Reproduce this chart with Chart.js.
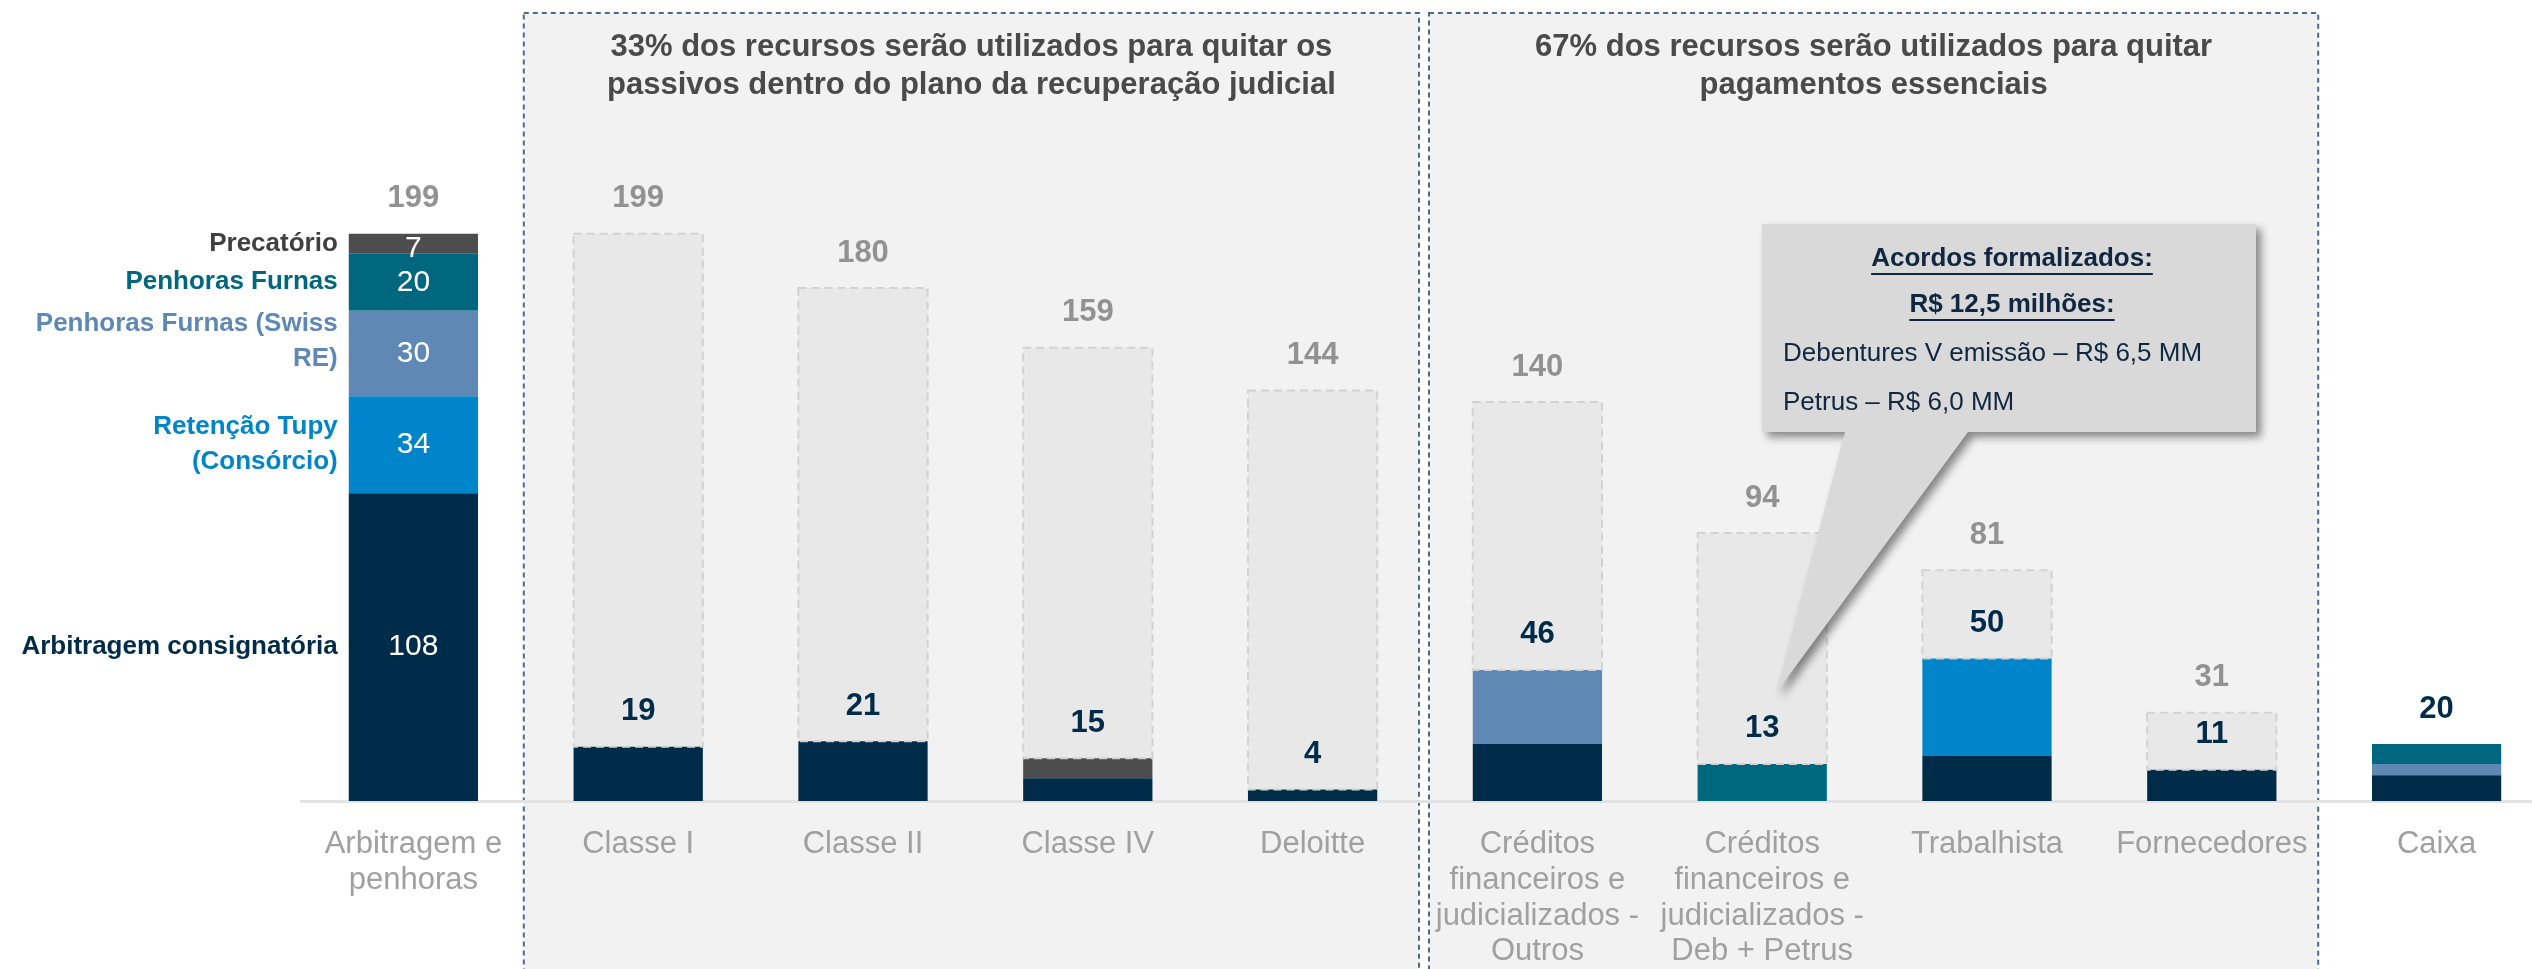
<!DOCTYPE html>
<html>
<head>
<meta charset="utf-8">
<script src="https://cdn.jsdelivr.net/npm/chart.js@4.4.0/dist/chart.umd.min.js"></script>
<style>
  html, body { margin: 0; padding: 0; background: #fff; overflow: hidden; }
  #wrap { width: 2560px; height: 969px; }
</style>
</head>
<body>
<div id="wrap"><canvas id="grafico" width="2560" height="969"></canvas></div>
<script>
// Categorias do eixo X
const categorias = [
  ['Arbitragem e', 'penhoras'],
  'Classe I', 'Classe II', 'Classe IV', 'Deloitte',
  ['Créditos', 'financeiros e', 'judicializados -', 'Outros'],
  ['Créditos', 'financeiros e', 'judicializados -', 'Deb + Petrus'],
  'Trabalhista', 'Fornecedores', 'Caixa'
];

// Fontes de recursos (R$ MM) empilhadas por categoria
const arbitragemConsignatoria = [108, 19, 21, 8, 4, 20, null, 16, 11, 9];
const retencaoTupy = [34, null, null, null, null, null, null, 34, null, null];
const penhorasSwissRe = [30, null, null, null, null, 26, null, null, null, 4];
const penhorasFurnas = [20, null, null, null, null, null, 13, null, null, 7];
const precatorio = [7, null, null, 7, null, null, null, null, null, null];

// Saldo antes de cada pagamento, valor pago e o que resta (barra tracejada)
const saldoTotal = [199, 199, 180, 159, 144, 140, 94, 81, 31, 20];
const valorPago = [null, 19, 21, 15, 4, 46, 13, 50, 11, 20];
const restante = [null, 180, 159, 144, 140, 94, 81, 31, 20, null];

// Rótulos da barra de fontes (à esquerda)
const nomesFontes = [
  ['Arbitragem consignatória'],
  ['Retenção Tupy', '(Consórcio)'],
  ['Penhoras Furnas (Swiss', 'RE)'],
  ['Penhoras Furnas'],
  ['Precatório']
];

const titulo1 = ['33% dos recursos serão utilizados para quitar os', 'passivos dentro do plano da recuperação judicial'];
const titulo2 = ['67% dos recursos serão utilizados para quitar', 'pagamentos essenciais'];
const textoBalao = ['Acordos formalizados:', 'R$ 12,5 milhões:', 'Debentures V emissão – R$ 6,5 MM', 'Petrus – R$ 6,0 MM'];

const cores = ['#002B49', '#0085CA', '#5F89B4', '#00677F', '#4D4D4D'];
const FONTE = '"Liberation Sans", Arial, sans-serif';

// Plugin para os painéis, rótulos e balão
const desenhos = {
  id: 'desenhos',
  beforeDraw(chart) {
    const ctx = chart.ctx;
    const x = chart.scales.x;
    const passo = x.getPixelForTick(1) - x.getPixelForTick(0);
    const paineis = [
      [x.getPixelForTick(1) - passo / 2 - 2, x.getPixelForTick(4) + passo / 2 - 6, titulo1],
      [x.getPixelForTick(5) - passo / 2 + 4, x.getPixelForTick(8) + passo / 2 - 6, titulo2]
    ];
    ctx.save();
    paineis.forEach(([esq, dir, tit]) => {
      ctx.fillStyle = '#F2F2F2';
      ctx.fillRect(esq, 13, dir - esq, 980);
      ctx.setLineDash([5, 4]);
      ctx.strokeStyle = '#4A6A8C';
      ctx.lineWidth = 2;
      ctx.strokeRect(esq, 13, dir - esq, 980);
      ctx.setLineDash([]);
      ctx.fillStyle = '#4A4A4A';
      ctx.font = 'bold 31px ' + FONTE;
      ctx.textAlign = 'center';
      ctx.textBaseline = 'middle';
      tit.forEach((linha, k) => ctx.fillText(linha, (esq + dir) / 2, 47 + k * 38));
    });
    ctx.restore();
  },
  afterDatasetsDraw(chart) {
    const ctx = chart.ctx;
    const x = chart.scales.x;
    const y = chart.scales.y;
    ctx.save();

    // contorno tracejado do saldo restante
    const metaResto = chart.getDatasetMeta(5);
    ctx.setLineDash([8, 5]);
    ctx.strokeStyle = '#D2D2D2';
    ctx.lineWidth = 2;
    metaResto.data.forEach((el, i) => {
      if (restante[i] == null) return;
      const p = el.getProps(['x', 'y', 'base', 'width'], true);
      ctx.strokeRect(p.x - p.width / 2, p.y, p.width, p.base - p.y);
    });
    ctx.setLineDash([]);

    ctx.textAlign = 'center';
    ctx.textBaseline = 'middle';

    // totais acima das barras
    saldoTotal.forEach((v, i) => {
      ctx.font = 'bold 31px ' + FONTE;
      ctx.fillStyle = i === 9 ? '#002B49' : '#929292';
      ctx.fillText(String(v), x.getPixelForTick(i), y.getPixelForValue(v) - 35);
    });

    // valores pagos
    valorPago.forEach((v, i) => {
      if (v == null || i === 9) return;
      ctx.font = 'bold 31px ' + FONTE;
      ctx.fillStyle = '#002B49';
      ctx.fillText(String(v), x.getPixelForTick(i), y.getPixelForValue(v) - 35);
    });

    // valores dentro da barra de fontes e nomes à esquerda
    for (let d = 0; d < 5; d++) {
      const el = chart.getDatasetMeta(d).data[0];
      const p = el.getProps(['x', 'y', 'base', 'width'], true);
      const meio = (p.y + p.base) / 2;
      ctx.font = '30px ' + FONTE;
      ctx.fillStyle = '#FFFFFF';
      ctx.textAlign = 'center';
      ctx.fillText(String(chart.data.datasets[d].data[0]), p.x, meio + (d === 4 ? 5 : 0));

      ctx.font = 'bold 26px ' + FONTE;
      ctx.fillStyle = d === 4 ? '#404040' : cores[d];
      ctx.textAlign = 'right';
      const linhas = nomesFontes[d];
      const centro = d === 2 ? meio - 12 : meio;
      linhas.forEach((l, k) => {
        ctx.fillText(l, p.x - p.width / 2 - 11, centro + (k - (linhas.length - 1) / 2) * 35);
      });
    }
    ctx.restore();
  },
  afterDraw(chart) {
    const ctx = chart.ctx;
    const x = chart.scales.x;
    const y = chart.scales.y;
    const bx = 1762, by = 224, bw = 494, bh = 208;
    const ponta = [x.getPixelForTick(6) + 14, y.getPixelForValue(38)];
    ctx.save();
    ctx.shadowColor = 'rgba(0,0,0,0.45)';
    ctx.shadowBlur = 8;
    ctx.shadowOffsetX = 5;
    ctx.shadowOffsetY = 5;
    ctx.fillStyle = '#D9D9D9';
    ctx.beginPath();
    ctx.moveTo(bx, by);
    ctx.lineTo(bx + bw, by);
    ctx.lineTo(bx + bw, by + bh);
    ctx.lineTo(1968, by + bh);
    ctx.lineTo(ponta[0], ponta[1]);
    ctx.lineTo(1845, by + bh);
    ctx.lineTo(bx, by + bh);
    ctx.closePath();
    ctx.fill();
    ctx.restore();

    ctx.save();
    ctx.fillStyle = '#0F2740';
    ctx.strokeStyle = '#0F2740';
    ctx.lineWidth = 2;
    ctx.textBaseline = 'middle';
    ctx.textAlign = 'center';
    ctx.font = 'bold 26px ' + FONTE;
    [[textoBalao[0], 259], [textoBalao[1], 305]].forEach(([t, ty]) => {
      const cx = bx + bw / 2 + 3;
      ctx.fillText(t, cx, ty);
      const w = ctx.measureText(t).width;
      ctx.beginPath();
      ctx.moveTo(cx - w / 2, ty + 15);
      ctx.lineTo(cx + w / 2, ty + 15);
      ctx.stroke();
    });
    ctx.textAlign = 'left';
    ctx.font = '26px ' + FONTE;
    ctx.fillText(textoBalao[2], 1783, 354);
    ctx.fillText(textoBalao[3], 1783, 403);
    ctx.restore();
  }
};

const conjunto = (label, data, cor) => ({
  label, data, backgroundColor: cor, borderWidth: 0,
  barPercentage: 0.575, categoryPercentage: 1
});

new Chart(document.getElementById('grafico').getContext('2d'), {
  type: 'bar',
  data: {
    labels: categorias,
    datasets: [
      conjunto('Arbitragem consignatória', arbitragemConsignatoria, cores[0]),
      conjunto('Retenção Tupy (Consórcio)', retencaoTupy, cores[1]),
      conjunto('Penhoras Furnas (Swiss RE)', penhorasSwissRe, cores[2]),
      conjunto('Penhoras Furnas', penhorasFurnas, cores[3]),
      conjunto('Precatório', precatorio, cores[4]),
      conjunto('Saldo', restante, '#E8E8E8')
    ]
  },
  options: {
    responsive: false,
    animation: false,
    devicePixelRatio: 1,
    events: [],
    layout: { padding: { left: 301, right: 11, top: 3, bottom: 0 } },
    plugins: { legend: { display: false }, tooltip: { enabled: false } },
    scales: {
      x: {
        stacked: true,
        grid: { display: false, drawTicks: false },
        border: { display: true, color: '#E3E3E3', width: 3 },
        ticks: {
          padding: 26,
          color: '#A0A0A0',
          font: { family: FONTE, size: 31, lineHeight: 1.15 },
          maxRotation: 0,
          autoSkip: false
        },
        afterFit(scale) { scale.height = 168; }
      },
      y: {
        stacked: true,
        display: false,
        min: 0,
        max: 280
      }
    }
  },
  plugins: [desenhos]
});
</script>
</body>
</html>
